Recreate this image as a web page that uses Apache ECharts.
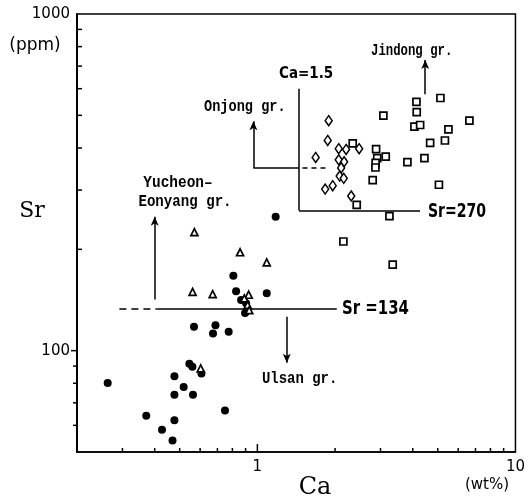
<!DOCTYPE html>
<html>
<head>
<meta charset="utf-8">
<script src="https://cdn.jsdelivr.net/npm/echarts@6/dist/echarts.min.js"></script>
<style>
html,body{margin:0;padding:0;background:#fff;}
#chart{width:528px;height:504px;}
</style>
</head>
<body>
<div id="chart"></div>
<script>
// ---- Data (Ca wt%, Sr ppm) ----
const ulsanCa = [0.263,0.371,0.427,0.469,0.477,0.477,0.477,0.518,0.563,0.545,0.560,0.607,0.749,0.568,0.688,0.673,0.774,1.177,0.807,0.827,1.087,0.896,0.865,0.904];
const ulsanSr = [80.2,64.1,58.2,54.1,62.1,74.0,83.9,78.0,74.0,91.5,89.6,85.5,66.4,117.8,118.9,112.5,113.8,250,167,150,148,129.4,141.4,138.2];

const yucheonCa = [0.570,0.561,0.671,0.857,1.087,0.925,0.890,0.917,0.603,0.930];
const yucheonSr = [225,149.4,147.3,196,183,146.6,142.9,136.7,88.6,132];

const onjongCa = [1.889,1.873,1.682,2.066,2.207,2.479,2.066,2.168,2.111,2.084,2.161,1.958,1.831,2.310];
const onjongSr = [482,421,375,398,396,398,369,364,349,330,325,309,302,288];

const jindongCa = [3.078,2.341,2.884,3.143,2.913,2.872,2.867,2.798,2.426,3.249,3.814,5.120,4.134,4.144,6.632,4.060,4.272,5.499,5.330,4.671,4.439,5.052,2.154,3.345];
const jindongSr = [499,413,397,377,373,361,350,321,271,251,363,563,548,511,482,463,468,454,421,414,373,311,211,180];

// axis ranges and tick values
const caRange = [0.2, 10];
const srRange = [50, 1000];
const caMinorTicks = [0.3,0.4,0.5,0.6,0.7,0.8,0.9,2,3,4,5,6,7,8,9];
const caMajorTicks = [1];
const srUpperTicks = [200,300,400,500,600,700,800,900];
const srLowerTicks = [60,70,80,90];
const srMajorTicks = [100];
const caLabels = [1, 10];
const srLabels = [100, 1000];

// annotation lines (value space)
const sr134 = 133;
const sr270 = 261;
const ca15 = 1.45;

const chart = echarts.init(document.getElementById('chart'), null, {renderer:'canvas'});

function zip(a,b){return a.map((v,i)=>[v,b[i]]);}
function isIn(v, arr){return arr.some(t=>Math.abs(Math.log10(v)-Math.log10(t))<1e-6);}

const black = '#000';
const lineStyle = {color:black, width:1.5, type:'solid', opacity:1};
function seg(p1,p2,opts){
  opts = opts||{};
  return [{coord:p1, symbol:'none', lineStyle:Object.assign({}, lineStyle, opts.ls||{})},
          {coord:p2, symbol: opts.arrow ? 'arrow':'none', symbolSize:[6,9]}];
}

const xTickData = caMinorTicks.map(v=>[v, srRange[0], 4]).concat(caMajorTicks.map(v=>[v, srRange[0], 8]));
const yTickData = srUpperTicks.map(v=>[caRange[0], v, 5]).concat(srLowerTicks.map(v=>[caRange[0], v, -4])).concat(srMajorTicks.map(v=>[caRange[0], v, -6]));

const monoFont = 'bold 17px "Liberation Mono", monospace';
const monoFontS = 'bold 16px "Liberation Mono", monospace';
const condFont = 'bold 20px "DejaVu Sans Condensed", "Liberation Sans Narrow", sans-serif';

const option = {
  animation:false,
  backgroundColor:'#fff',
  grid:{left:77, right:12, top:14, bottom:52, show:true, borderColor:black, borderWidth:1.5},
  xAxis:{
    type:'log', logBase:10, min:caRange[0], max:caRange[1],
    axisLine:{show:true, lineStyle:{color:black, width:1.5}},
    axisTick:{show:false}, splitLine:{show:false}, minorTick:{show:false},
    axisLabel:{
      color:black, fontSize:15, fontFamily:'DejaVu Sans', margin:8,
      formatter:function(v){
        if(!isIn(v, caLabels)) return '';
        return Math.abs(v-10)<1e-6 ? '{t|10}' : String(Math.round(v));
      },
      rich:{t:{fontSize:15, fontFamily:'DejaVu Sans', color:black, padding:[0,0,8,0]}},
      showMinLabel:true, showMaxLabel:true
    }
  },
  yAxis:{
    type:'log', logBase:10, min:srRange[0], max:srRange[1],
    axisLine:{show:true, lineStyle:{color:black, width:2}},
    axisTick:{show:false}, splitLine:{show:false}, minorTick:{show:false},
    axisLabel:{
      color:black, fontSize:15, fontFamily:'DejaVu Sans', margin:7,
      formatter:function(v){ return isIn(v, srLabels) ? String(Math.round(v)) : ''; },
      showMinLabel:true, showMaxLabel:true
    }
  },
  series:[
    {type:'scatter', name:'Ulsan', data:zip(ulsanCa, ulsanSr), symbol:'circle', symbolSize:8,
     itemStyle:{color:black, opacity:1}, z:5},
    {type:'scatter', name:'Yucheon-Eonyang', data:zip(yucheonCa, yucheonSr), symbol:'triangle', symbolSize:7,
     itemStyle:{color:'#fff', borderColor:black, borderWidth:1.7, opacity:1}, z:6},
    {type:'scatter', name:'Onjong', data:zip(onjongCa, onjongSr), symbol:'diamond', symbolSize:[7,10],
     itemStyle:{color:'#fff', borderColor:black, borderWidth:1.5, opacity:1}, z:6},
    {type:'scatter', name:'Jindong', data:zip(jindongCa, jindongSr), symbol:'rect', symbolSize:7,
     itemStyle:{color:'#fff', borderColor:black, borderWidth:1.7, opacity:1}, z:6},
    {type:'line', name:'annot', data:[], silent:true,
     markLine:{
       silent:true, animation:false, label:{show:false}, emphasis:{disabled:true},
       symbol:['none','none'],
       data:[
         seg([0.292, sr134],[0.41, sr134],{ls:{type:[7,5]}}),
         seg([0.41, sr134],[2.03, sr134]),
         seg([0.40, 142],[0.40, 250],{arrow:true}),
         seg([1.30, 126],[1.30, 92],{arrow:true}),
         seg([0.965, 349],[0.965, 480],{arrow:true}),
         seg([0.965, 349],[1.38, 349]),
         seg([1.38, 349],[1.85, 349],{ls:{type:[5,4]}}),
         seg([ca15, 600],[ca15, sr270]),
         seg([ca15, sr270],[4.27, sr270]),
         seg([4.47, 578],[4.47, 730],{arrow:true})
       ]
     }},
    {type:'custom', name:'xticks', data:xTickData, clip:false, silent:true, z:10,
     renderItem:function(params, api){
       const p = api.coord([api.value(0), api.value(1)]);
       const len = api.value(2);
       return {type:'line', shape:{x1:p[0], y1:p[1], x2:p[0], y2:p[1]-len}, style:{stroke:black, lineWidth:1.5}};
     }},
    {type:'custom', name:'yticks', data:yTickData, clip:false, silent:true, z:10,
     renderItem:function(params, api){
       const p = api.coord([api.value(0), api.value(1)]);
       const len = api.value(2);
       return {type:'line', shape:{x1:p[0], y1:p[1], x2:p[0]+len, y2:p[1]}, style:{stroke:black, lineWidth:1.5}};
     }}
  ],
  graphic:[
    {type:'text', x:35, y:46, style:{text:'(ppm)', font:'17px "DejaVu Sans", sans-serif', fill:black, align:'center', verticalAlign:'middle'}},
    {type:'text', x:32, y:211, style:{text:'Sr', font:'22px "DejaVu Serif", serif', fill:black, align:'center', verticalAlign:'middle'}},
    {type:'text', x:315, y:488, style:{text:'Ca', font:'24px "DejaVu Serif", serif', fill:black, align:'center', verticalAlign:'middle'}},
    {type:'text', x:487, y:485, style:{text:'(wt%)', font:'15px "DejaVu Sans", sans-serif', fill:black, align:'center', verticalAlign:'middle'}},
    {type:'text', x:279, y:74, style:{text:'Ca=1.5', font:'bold 15px "DejaVu Sans Condensed", sans-serif', fill:black, align:'left', verticalAlign:'middle'}},
    {type:'text', x:204, y:107, scaleX:0.8, style:{text:'Onjong gr.', font:monoFont, fill:black, align:'left', verticalAlign:'middle'}},
    {type:'text', x:371, y:51, scaleX:0.77, style:{text:'Jindong gr.', font:monoFontS, fill:black, align:'left', verticalAlign:'middle'}},
    {type:'text', x:428, y:212, scaleX:0.78, style:{text:'Sr=270', font:condFont, fill:black, align:'left', verticalAlign:'middle'}},
    {type:'text', x:178, y:183, scaleX:0.85, style:{text:'Yucheon\u2013', font:monoFont, fill:black, align:'center', verticalAlign:'middle'}},
    {type:'text', x:185, y:202, scaleX:0.83, style:{text:'Eonyang gr.', font:monoFont, fill:black, align:'center', verticalAlign:'middle'}},
    {type:'text', x:342, y:309, scaleX:0.83, style:{text:'Sr =134', font:condFont, fill:black, align:'left', verticalAlign:'middle'}},
    {type:'text', x:262, y:379, scaleX:0.82, style:{text:'Ulsan gr.', font:monoFont, fill:black, align:'left', verticalAlign:'middle'}}
  ]
};
chart.setOption(option);
</script>
</body>
</html>
